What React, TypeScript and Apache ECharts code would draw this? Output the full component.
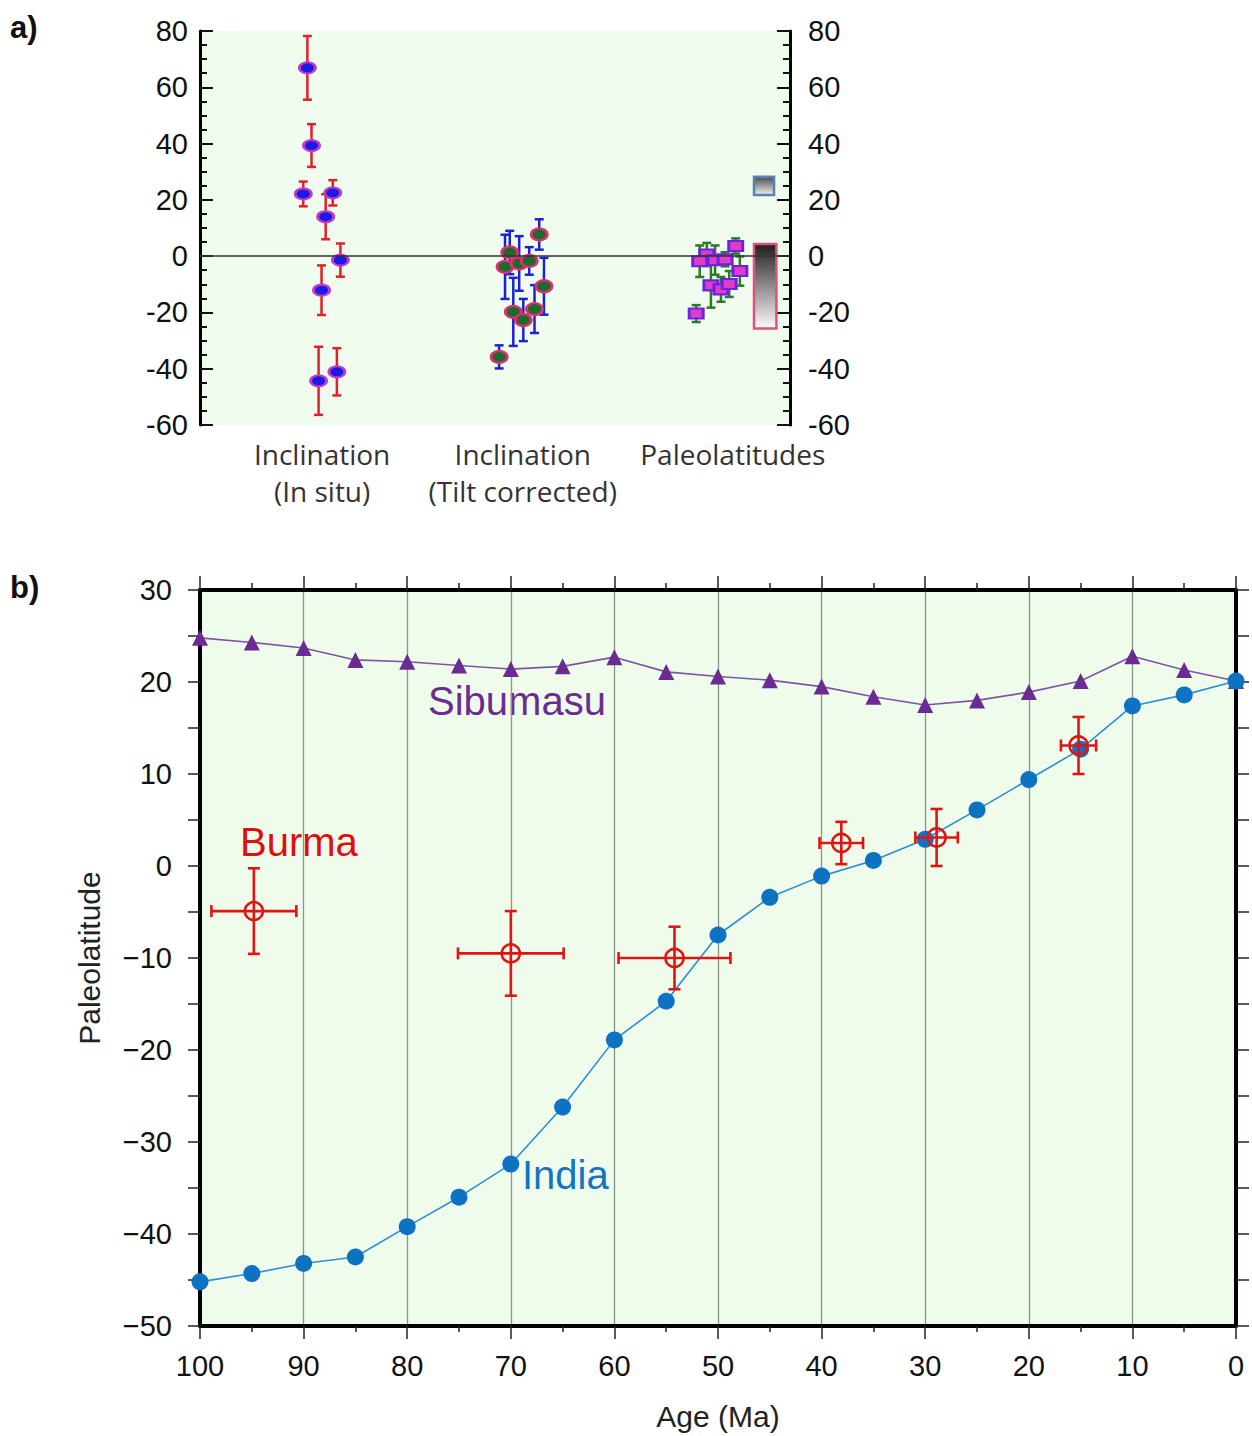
import React, { useEffect, useRef } from 'react';
import * as echarts from 'echarts';

// ---------- Panel a data ----------
const inclCategoryLabels = ['Inclination\n(In situ)', 'Inclination\n(Tilt corrected)', 'Paleolatitudes'];
const inclCategoryPos = [20.7, 54.7, 90.3];

const inSituX = [18.2, 18.9, 17.5, 22.5, 21.3, 23.8, 20.6, 20.1, 23.2];
const inSituInc = [66.9, 39.3, 22.1, 22.5, 14.0, -1.4, -12.1, -44.3, -41.1];
const inSituErr = [11.3, 7.6, 4.4, 4.5, 8.0, 5.9, 8.8, 12.1, 8.4];

const tiltX = [57.5, 52.5, 51.7, 54.1, 55.8, 58.3, 53.1, 54.8, 56.7, 50.7];
const tiltInc = [7.7, 1.3, -3.8, -2.6, -1.7, -10.7, -19.8, -22.7, -18.8, -35.8];
const tiltErr = [5.4, 7.7, 11.4, 9.7, 4.9, 10.1, 12.1, 7.5, 8.5, 4.1];

const paleoX = [90.8, 85.9, 84.7, 87.3, 89.0, 91.5, 86.6, 88.3, 89.7, 84.1];
const paleoLat = [3.6, 0.6, -1.8, -1.4, -1.1, -5.3, -10.4, -11.8, -9.9, -20.4];
const paleoErr = [2.7, 4.1, 5.6, 5.2, 2.5, 5.2, 7.9, 4.4, 4.6, 3.0];

// [xLeft, yBottom, xRight, yTop]
const refBoxSmall = [93.9, 21.7, 97.3, 28.2];
const refBoxLarge = [93.9, -25.7, 97.7, 4.3];

// ---------- Panel b data ----------
const ages = [100, 95, 90, 85, 80, 75, 70, 65, 60, 55, 50, 45, 40, 35, 30, 25, 20, 15, 10, 5, 0];
const indiaLat = [-45.2, -44.3, -43.2, -42.5, -39.2, -36.0, -32.4, -26.2, -18.9, -14.7, -7.5, -3.4, -1.1, 0.6, 2.9, 6.1, 9.4, 12.7, 17.4, 18.6, 20.1];
const sibumasuLat = [24.8, 24.3, 23.7, 22.4, 22.2, 21.8, 21.4, 21.7, 22.7, 21.1, 20.6, 20.2, 19.5, 18.4, 17.5, 18.0, 18.9, 20.1, 22.8, 21.3, 20.1];

const burmaAge = [94.8, 70.0, 54.2, 38.1, 28.9, 15.2];
const burmaLat = [-4.9, -9.5, -10.0, 2.5, 3.1, 13.1];
const burmaAgeErr = [4.1, 5.1, 5.4, 2.1, 2.05, 1.7];
const burmaLatErr = [4.65, 4.6, 3.4, 2.3, 3.1, 3.1];

const FONT = '"Liberation Sans", Arial, sans-serif';

function vErrRender(color: string, cap: number, lw: number) {
  return (_params: any, api: any) => {
    const x = api.value(0);
    const y = api.value(1);
    const e = api.value(2);
    const top = api.coord([x, y + e]);
    const bot = api.coord([x, y - e]);
    const st = { stroke: color, lineWidth: lw };
    return {
      type: 'group',
      children: [
        { type: 'line', shape: { x1: top[0], y1: top[1], x2: bot[0], y2: bot[1] }, style: st },
        { type: 'line', shape: { x1: top[0] - cap, y1: top[1], x2: top[0] + cap, y2: top[1] }, style: st },
        { type: 'line', shape: { x1: bot[0] - cap, y1: bot[1], x2: bot[0] + cap, y2: bot[1] }, style: st },
      ],
    };
  };
}

function boxRender(top: string, bottom: string, border: string) {
  return (_params: any, api: any) => {
    const p1 = api.coord([api.value(0), api.value(3)]);
    const p2 = api.coord([api.value(2), api.value(1)]);
    return {
      type: 'rect',
      shape: { x: p1[0], y: p1[1], width: p2[0] - p1[0], height: p2[1] - p1[1] },
      style: {
        fill: new echarts.graphic.LinearGradient(0, 0, 0, 1, [
          { offset: 0, color: top },
          { offset: 1, color: bottom },
        ]),
        stroke: border,
        lineWidth: 2.5,
      },
    };
  };
}

function burmaRender(_params: any, api: any) {
  const a = api.value(0);
  const l = api.value(1);
  const ea = api.value(2);
  const el = api.value(3);
  const c = api.coord([a, l]);
  const left = api.coord([a + ea, l]);
  const right = api.coord([a - ea, l]);
  const top = api.coord([a, l + el]);
  const bot = api.coord([a, l - el]);
  const cap = 6;
  const st = { stroke: '#e01414', lineWidth: 2.6 };
  return {
    type: 'group',
    children: [
      { type: 'line', shape: { x1: left[0], y1: c[1], x2: right[0], y2: c[1] }, style: st },
      { type: 'line', shape: { x1: c[0], y1: top[1], x2: c[0], y2: bot[1] }, style: st },
      { type: 'line', shape: { x1: left[0], y1: c[1] - cap, x2: left[0], y2: c[1] + cap }, style: st },
      { type: 'line', shape: { x1: right[0], y1: c[1] - cap, x2: right[0], y2: c[1] + cap }, style: st },
      { type: 'line', shape: { x1: c[0] - cap, y1: top[1], x2: c[0] + cap, y2: top[1] }, style: st },
      { type: 'line', shape: { x1: c[0] - cap, y1: bot[1], x2: c[0] + cap, y2: bot[1] }, style: st },
      { type: 'circle', shape: { cx: c[0], cy: c[1], r: 9 }, style: { fill: 'none', stroke: '#e01414', lineWidth: 2.6 } },
    ],
  };
}

const minusFmt = (v: number) => (v < 0 ? '\u2212' + Math.abs(v) : String(v));

export default function App() {
  const ref = useRef<HTMLDivElement>(null);
  useEffect(() => {
    if (!ref.current) return;
    const chart = echarts.init(ref.current, undefined, { renderer: 'svg' });
    const zip = (xs: number[], ys: number[], es: number[]) => xs.map((x, i) => [x, ys[i], es[i]]);
    const bgA = '#f0fcee';
    const bgB = '#effcec';

    const option: any = {
      animation: false,
      textStyle: { fontFamily: FONT },
      grid: [
        { left: 200, top: 31, width: 590, height: 394, show: true, backgroundColor: bgA, borderWidth: 0 },
        { left: 200, top: 590, width: 1036, height: 738, show: true, backgroundColor: bgB, borderWidth: 0 },
      ],
      xAxis: [
        {
          gridIndex: 0, type: 'value', min: 0, max: 100,
          axisLine: { show: false }, axisTick: { show: false }, splitLine: { show: false },
          axisLabel: {
            customValues: inclCategoryPos,
            formatter: (v: number) => {
              const i = inclCategoryPos.findIndex((p) => Math.abs(p - v) < 0.01);
              return i >= 0 ? inclCategoryLabels[i] : '';
            },
            fontFamily: '"Open Sans", sans-serif', fontSize: 28, color: '#333', lineHeight: 37, margin: 10,
            showMinLabel: true, showMaxLabel: true,
          },
        },
        {
          gridIndex: 1, type: 'value', min: 0, max: 100, interval: 10, inverse: true, position: 'bottom',
          axisLine: { show: true, onZero: false, lineStyle: { color: '#000', width: 4 } },
          axisTick: { show: true, length: 13, lineStyle: { color: '#222', width: 1.5 } },
          minorTick: { show: true, splitNumber: 2, length: 6, lineStyle: { color: '#222', width: 1.5 } },
          splitLine: { show: true, lineStyle: { color: '#88968a', width: 1.3 } },
          axisLabel: { fontSize: 29, color: '#111', margin: 25 },
          name: 'Age (Ma)', nameLocation: 'middle', nameGap: 75,
          nameTextStyle: { fontSize: 30, color: '#222' },
        },
        {
          gridIndex: 1, type: 'value', min: 0, max: 100, interval: 10, inverse: true, position: 'top',
          axisLine: { show: true, onZero: false, lineStyle: { color: '#000', width: 4 } },
          axisTick: { show: true, length: 14, lineStyle: { color: '#222', width: 1.5 } },
          minorTick: { show: true, splitNumber: 2, length: 7, lineStyle: { color: '#222', width: 1.5 } },
          splitLine: { show: false },
          axisLabel: { show: false },
        },
      ],
      yAxis: [
        {
          gridIndex: 0, type: 'value', min: -60, max: 80, interval: 20, position: 'left',
          axisLine: { show: true, lineStyle: { color: '#000', width: 3 } },
          axisTick: { show: true, inside: true, length: 13, lineStyle: { color: '#111', width: 2 } },
          minorTick: { show: true, splitNumber: 4, length: 7, lineStyle: { color: '#111', width: 2 } },
          splitLine: { show: false },
          axisLabel: { fontSize: 29, color: '#111', margin: 12, lineHeight: 18 },
        },
        {
          gridIndex: 0, type: 'value', min: -60, max: 80, interval: 20, position: 'right',
          axisLine: { show: true, lineStyle: { color: '#000', width: 3 } },
          axisTick: { show: true, inside: true, length: 13, lineStyle: { color: '#111', width: 2 } },
          minorTick: { show: true, splitNumber: 4, length: 7, lineStyle: { color: '#111', width: 2 } },
          splitLine: { show: false },
          axisLabel: { fontSize: 29, color: '#111', margin: 18, lineHeight: 18 },
        },
        {
          gridIndex: 1, type: 'value', min: -50, max: 30, interval: 10, position: 'left',
          axisLine: { show: true, onZero: false, lineStyle: { color: '#000', width: 4 } },
          axisTick: { show: true, length: 12, lineStyle: { color: '#222', width: 1.5 } },
          minorTick: { show: true, splitNumber: 2, length: 12, lineStyle: { color: '#222', width: 1.5 } },
          splitLine: { show: false },
          axisLabel: { fontSize: 29, color: '#111', margin: 28, formatter: minusFmt },
          name: 'Paleolatitude', nameLocation: 'middle', nameGap: 96,
          nameTextStyle: { fontSize: 30, color: '#222' },
        },
        {
          gridIndex: 1, type: 'value', min: -50, max: 30, interval: 10, position: 'right',
          axisLine: { show: true, onZero: false, lineStyle: { color: '#000', width: 4 } },
          axisTick: { show: true, length: 13, lineStyle: { color: '#222', width: 1.5 } },
          minorTick: { show: true, splitNumber: 2, length: 13, lineStyle: { color: '#222', width: 1.5 } },
          splitLine: { show: false },
          axisLabel: { show: false },
        },
      ],
      graphic: [
        { type: 'text', left: 10, top: 12, style: { text: 'a)', font: `bold 31px ${FONT}`, fill: '#111' } },
        { type: 'text', left: 10, top: 572, style: { text: 'b)', font: `bold 31px ${FONT}`, fill: '#111' } },
        { type: 'text', left: 428, top: 681, style: { text: 'Sibumasu', font: `40px ${FONT}`, fill: '#6a2c92' } },
        { type: 'text', left: 240, top: 822, style: { text: 'Burma', font: `40px ${FONT}`, fill: '#dd1010' } },
        { type: 'text', left: 522, top: 1155, style: { text: 'India', font: `40px ${FONT}`, fill: '#1474c4' } },
      ],
      series: [
        // Panel a: reference boxes
        {
          type: 'custom', xAxisIndex: 0, yAxisIndex: 0, z: 2,
          renderItem: boxRender('#4a4a4a', '#f2f2f2', '#5a82b8'),
          data: [refBoxSmall],
        },
        {
          type: 'custom', xAxisIndex: 0, yAxisIndex: 0, z: 2,
          renderItem: boxRender('#1e1e1e', '#fbfbfb', '#e4507c'),
          data: [refBoxLarge],
        },
        // Panel a: error bars
        {
          type: 'custom', xAxisIndex: 0, yAxisIndex: 0, z: 3,
          renderItem: vErrRender('#e0202a', 4.5, 2.5),
          data: zip(inSituX, inSituInc, inSituErr),
        },
        {
          type: 'custom', xAxisIndex: 0, yAxisIndex: 0, z: 3,
          renderItem: vErrRender('#1c22d4', 4.5, 2.5),
          data: zip(tiltX, tiltInc, tiltErr),
        },
        {
          type: 'custom', xAxisIndex: 0, yAxisIndex: 0, z: 3,
          renderItem: vErrRender('#2a7a2a', 4.5, 2.5),
          data: zip(paleoX, paleoLat, paleoErr),
        },
        // Panel a: markers
        {
          type: 'scatter', xAxisIndex: 0, yAxisIndex: 0, z: 4,
          symbol: 'circle', symbolSize: [16, 11],
          itemStyle: { color: '#1a1ae0', borderColor: '#c03cc8', borderWidth: 2.5, opacity: 1 },
          data: inSituX.map((x, i) => [x, inSituInc[i]]),
          markLine: {
            silent: true, symbol: 'none', label: { show: false },
            lineStyle: { color: '#333', width: 1.5, type: 'solid' },
            data: [{ yAxis: 0 }],
          },
        },
        {
          type: 'scatter', xAxisIndex: 0, yAxisIndex: 0, z: 4,
          symbol: 'circle', symbolSize: [16, 12],
          itemStyle: { color: '#1c6a2c', borderColor: '#e0306e', borderWidth: 2.5, opacity: 1 },
          data: tiltX.map((x, i) => [x, tiltInc[i]]),
        },
        {
          type: 'scatter', xAxisIndex: 0, yAxisIndex: 0, z: 4,
          symbol: 'rect', symbolSize: [14, 10],
          itemStyle: { color: '#e03cc8', borderColor: '#6a24e0', borderWidth: 2.5, opacity: 1 },
          data: paleoX.map((x, i) => [x, paleoLat[i]]),
        },
        // Panel b
        {
          type: 'line', xAxisIndex: 1, yAxisIndex: 2, z: 3,
          symbol: 'triangle', symbolSize: 16,
          lineStyle: { color: '#7d55a6', width: 1.6 },
          itemStyle: { color: '#6a2c92' },
          data: ages.map((a, i) => [a, sibumasuLat[i]]),
        },
        {
          type: 'line', xAxisIndex: 1, yAxisIndex: 2, z: 3,
          symbol: 'circle', symbolSize: 17,
          lineStyle: { color: '#2a8fd4', width: 1.6 },
          itemStyle: { color: '#0e72c2' },
          data: ages.map((a, i) => [a, indiaLat[i]]),
        },
        {
          type: 'custom', xAxisIndex: 1, yAxisIndex: 2, z: 5,
          renderItem: burmaRender,
          data: burmaAge.map((a, i) => [a, burmaLat[i], burmaAgeErr[i], burmaLatErr[i]]),
        },
      ],
    };
    chart.setOption(option);
    return () => chart.dispose();
  }, []);
  return (
    <div
      ref={ref}
      style={{ position: 'absolute', left: 0, top: 0, width: 1252, height: 1436, background: '#fff' }}
    />
  );
}
